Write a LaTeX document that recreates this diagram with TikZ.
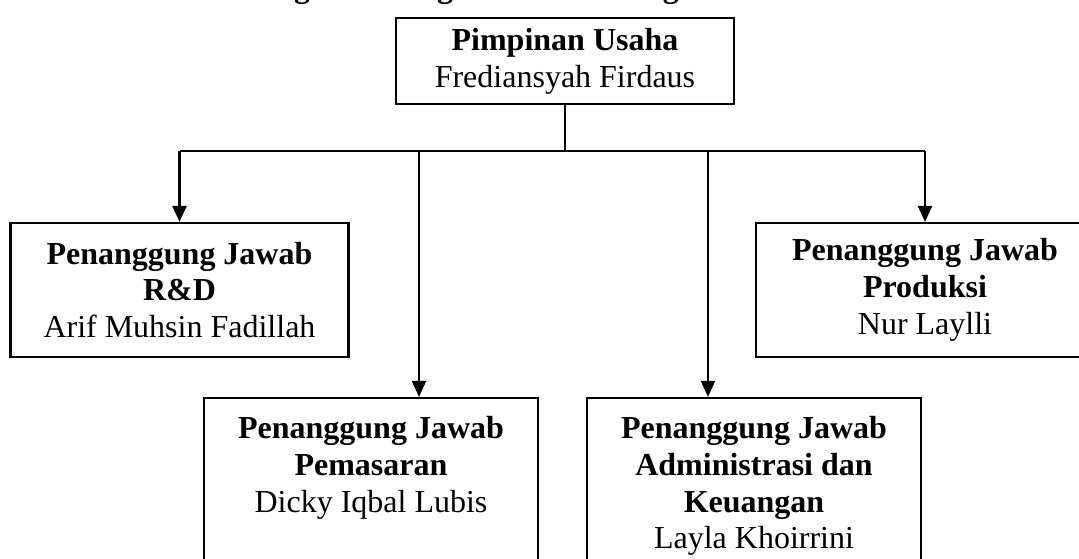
\documentclass[tikz,border=0pt]{standalone}
\usepackage{fontspec}
\setmainfont{Liberation Serif}
\usetikzlibrary{arrows.meta}
\begin{document}
\begin{tikzpicture}[x=1pt,y=1pt,
  txt/.style={font=\fontsize{32}{36.8}\selectfont,align=center,inner sep=0pt},
  box/.style={txt,draw,line width=2.2pt,minimum width=338pt},
  conn/.style={line width=2.2pt},
  arr/.style={line width=2.2pt,-{Triangle[length=16pt,width=14pt]}}]
\useasboundingbox (0,0) rectangle (1079,-558);
\node[font=\fontsize{32}{36.8}\selectfont\bfseries,inner sep=0pt,anchor=base] (title) at (599,2.5) {Bagan 4.1 Bagan Struktur Organisasi Perusahaan};
\node[box,minimum height=86pt] (top) at (565,-61) {\textbf{Pimpinan Usaha}\\Frediansyah Firdaus};
\node[box,minimum height=134pt] (rd) at (179.5,-290) {\textbf{Penanggung Jawab}\\\textbf{R\&D}\\Arif Muhsin Fadillah};
\node[box,minimum height=134pt] (prod) at (925,-290) {\textbf{Penanggung Jawab}\\\textbf{Produksi}\\Nur Laylli};
\node[box,minimum width=334pt,minimum height=192pt] (pem) at (371,-494) {};
\node[txt,anchor=north] (pemtext) at (371,-416) {\textbf{Penanggung Jawab}\\\textbf{Pemasaran}\\Dicky Iqbal Lubis};
\node[box,minimum width=334pt,minimum height=192pt] (adm) at (754,-494) {};
\node[txt,anchor=north] (admtext) at (754,-416) {\textbf{Penanggung Jawab}\\\textbf{Administrasi dan}\\\textbf{Keuangan}\\Layla Khoirrini};
\coordinate (j) at (565,-151);
\coordinate (jp) at (419,-151);
\coordinate (ja) at (708,-151);
\draw[conn] (top.south) -- (j);
\draw[conn] (rd.north |- j) -- (prod.north |- j);
\draw[arr] (rd.north |- j) -- (rd.north);
\draw[arr] (jp) -- (jp |- pem.north);
\draw[arr] (ja) -- (ja |- adm.north);
\draw[arr] (prod.north |- j) -- (prod.north);
\end{tikzpicture}
\end{document}
